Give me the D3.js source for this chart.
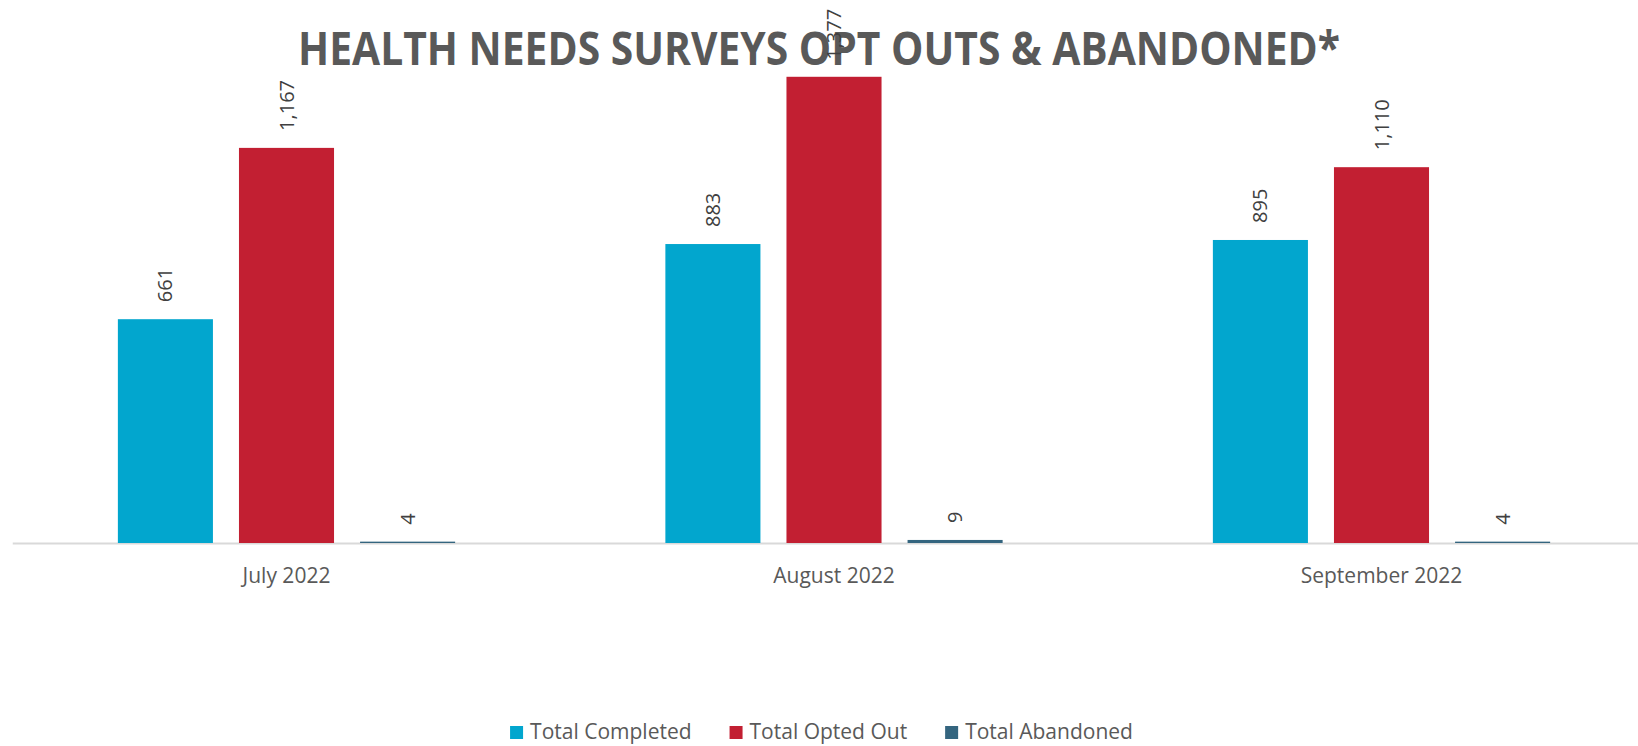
<!DOCTYPE html>
<html>
<head>
<meta charset="utf-8">
<script src="https://cdn.jsdelivr.net/npm/d3@7"></script>
<style>
  html, body { margin: 0; padding: 0; background: #ffffff; }
  svg { display: block; }
</style>
</head>
<body>
<svg id="chart" width="1638" height="746"></svg>
<script>
const categories = ["July 2022", "August 2022", "September 2022"];
const seriesNames = ["Total Completed", "Total Opted Out", "Total Abandoned"];
const totalCompleted = [661, 883, 895];
const totalOptedOut = [1167, 1377, 1110];
const totalAbandoned = [4, 9, 4];
const seriesColors = ["#02A6CE", "#C21F32", "#34657F"];
const titleText = "HEALTH NEEDS SURVEYS OPT OUTS & ABANDONED*";

const seriesValues = [totalCompleted, totalOptedOut, totalAbandoned];
const W = 1638, H = 746;
const svg = d3.select("#chart");

const baseY = 543;
const y = d3.scaleLinear().domain([0, 1400]).range([baseY, 69]);

const x0 = d3.scaleBand().domain(categories).range([12.75, 1655.25]).padding(0);
const step = x0.bandwidth();
const outer = step * 0.192;
const x1 = d3.scaleBand().domain(seriesNames).range([outer, step - outer]).paddingInner(0.215).paddingOuter(0);

// title
svg.append("text")
  .attr("x", W / 2)
  .attr("y", 65)
  .attr("text-anchor", "middle")
  .attr("font-family", "'Open Sans', sans-serif")
  .attr("font-weight", 700)
  .attr("font-size", 47)
  .attr("fill", "#595959")
  .attr("textLength", 1042)
  .attr("lengthAdjust", "spacingAndGlyphs")
  .text(titleText);

// axis line
svg.append("line")
  .attr("x1", 12.75).attr("x2", W)
  .attr("y1", baseY + 0.5).attr("y2", baseY + 0.5)
  .attr("stroke", "#d9d9d9").attr("stroke-width", 2);

const rows = [];
categories.forEach((c, i) => {
  seriesNames.forEach((s, j) => {
    rows.push({cat: c, series: s, value: seriesValues[j][i], color: seriesColors[j]});
  });
});

const g = svg.append("g");
g.selectAll("rect.bar").data(rows).enter().append("rect")
  .attr("class", "bar")
  .attr("x", d => x0(d.cat) + x1(d.series))
  .attr("width", x1.bandwidth())
  .attr("y", d => y(d.value))
  .attr("height", d => baseY - y(d.value))
  .attr("fill", d => d.color);

const fmt = d3.format(",");
g.selectAll("text.lbl").data(rows).enter().append("text")
  .attr("class", "lbl")
  .attr("transform", d => {
    const cx = x0(d.cat) + x1(d.series) + x1.bandwidth() / 2;
    const ty = y(d.value) - 17;
    return `translate(${cx},${ty}) rotate(-90)`;
  })
  .attr("dy", "0.35em")
  .attr("text-anchor", "start")
  .attr("font-family", "'Open Sans', sans-serif")
  .attr("font-size", 20)
  .attr("fill", "#404040")
  .text(d => fmt(d.value));

// category labels
svg.selectAll("text.cat").data(categories).enter().append("text")
  .attr("class", "cat")
  .attr("x", d => x0(d) + step / 2)
  .attr("y", 583)
  .attr("text-anchor", "middle")
  .attr("font-family", "'Open Sans', sans-serif")
  .attr("font-size", 21)
  .attr("fill", "#595959")
  .text(d => d);

// legend
const legend = svg.append("g");
const items = legend.selectAll("g.item").data(seriesNames).enter().append("g").attr("class", "item");
items.append("rect")
  .attr("width", 13).attr("height", 13)
  .attr("y", 726)
  .attr("fill", (d, i) => seriesColors[i]);
items.append("text")
  .attr("x", 20)
  .attr("y", 739)
  .attr("font-family", "'Open Sans', sans-serif")
  .attr("font-size", 21)
  .attr("fill", "#595959")
  .text(d => d);
let widths = [];
items.each(function() {
  widths.push(20 + d3.select(this).select("text").node().getComputedTextLength());
});
const gap = 38;
const total = d3.sum(widths) + gap * (widths.length - 1);
let cx = 821.5 - total / 2;
items.each(function(d, i) {
  d3.select(this).attr("transform", `translate(${cx},0)`);
  cx += widths[i] + gap;
});
</script>
</body>
</html>
